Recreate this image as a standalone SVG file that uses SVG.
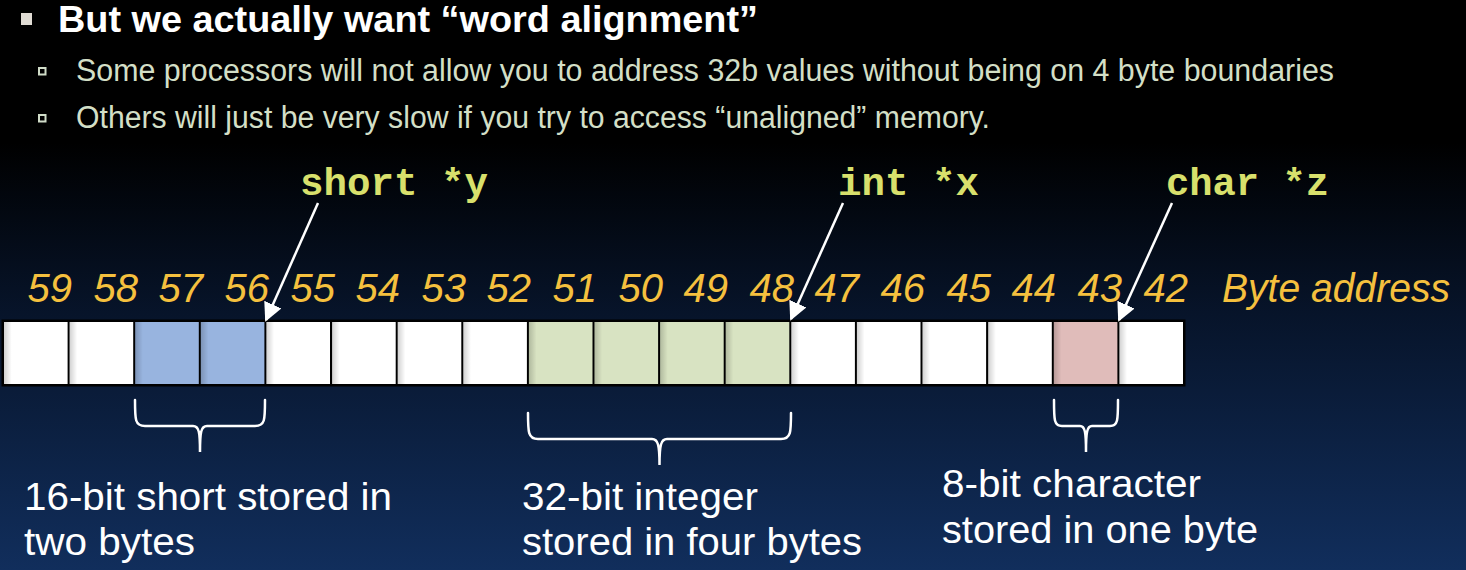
<svg xmlns="http://www.w3.org/2000/svg" width="1466" height="570" viewBox="0 0 1466 570">
<defs>
<linearGradient id="bg" x1="0" y1="0" x2="0" y2="1">
<stop offset="0" stop-color="#000000"/>
<stop offset="0.25" stop-color="#000000"/>
<stop offset="0.55" stop-color="#07142a"/>
<stop offset="1" stop-color="#112e5c"/>
</linearGradient>
<linearGradient id="shade" x1="0" y1="0" x2="1" y2="0">
<stop offset="0" stop-color="#000" stop-opacity="0.18"/>
<stop offset="0.12" stop-color="#000" stop-opacity="0"/>
</linearGradient>
<marker id="ah" viewBox="0 0 10 10" refX="9" refY="5" markerWidth="7.5" markerHeight="7.5" markerUnits="strokeWidth" orient="auto">
<path d="M0,0 L10,5 L0,10 z" fill="#ffffff"/>
</marker>
<style>
.title{font-family:"Liberation Sans",Arial,sans-serif;font-weight:bold;font-size:36px;fill:#ffffff}
.sub{font-family:"Liberation Sans",Arial,sans-serif;font-size:31px;fill:#d3dfc6}
.code{font-family:"Liberation Mono","Courier New",monospace;font-weight:bold;font-size:39px;fill:#d8e06c}
.num{font-family:"Liberation Sans",Arial,sans-serif;font-style:italic;font-size:40px;fill:#f5c03e;text-anchor:end}
.lbl{font-family:"Liberation Sans",Arial,sans-serif;font-size:38px;fill:#ffffff}
.cell{stroke:none}
.w{fill:#ffffff}.b{fill:#98b4df}.g{fill:#d8e3c2}.p{fill:#e0bcba}
.arrow{stroke:#ffffff;stroke-width:2.5;fill:none}
.brace{stroke:#ffffff;stroke-width:2.5;fill:none;stroke-linecap:round}
</style>
</defs>
<rect x="0" y="0" width="1466" height="570" fill="url(#bg)"/>

<g id="header">
<rect x="21" y="13" width="11" height="12" fill="#e0dcd4"/>
<text class="title" x="58" y="32" textLength="700" lengthAdjust="spacingAndGlyphs">But we actually want “word alignment”</text>
<rect x="39" y="68" width="6.5" height="6.5" fill="none" stroke="#d0dcc8" stroke-width="2"/>
<text class="sub" x="76" y="81" textLength="1258" lengthAdjust="spacingAndGlyphs">Some processors will not allow you to address 32b values without being on 4 byte boundaries</text>
<rect x="39" y="115" width="6.5" height="6.5" fill="none" stroke="#d0dcc8" stroke-width="2"/>
<text class="sub" x="76" y="128" textLength="914" lengthAdjust="spacingAndGlyphs">Others will just be very slow if you try to access “unaligned” memory.</text>
</g>

<g id="pointer-labels">
<text id="label-short" class="code" x="300" y="195" textLength="188" lengthAdjust="spacingAndGlyphs">short *y</text>
<text id="label-int" class="code" x="838" y="195" textLength="141" lengthAdjust="spacingAndGlyphs">int *x</text>
<text id="label-char" class="code" x="1166" y="195" textLength="163" lengthAdjust="spacingAndGlyphs">char *z</text>
</g>

<g id="addresses">
<text class="num" x="72" y="302">59</text>
<text class="num" x="138" y="302">58</text>
<text class="num" x="203" y="302">57</text>
<text class="num" x="269" y="302">56</text>
<text class="num" x="335" y="302">55</text>
<text class="num" x="400" y="302">54</text>
<text class="num" x="466" y="302">53</text>
<text class="num" x="531" y="302">52</text>
<text class="num" x="597" y="302">51</text>
<text class="num" x="663" y="302">50</text>
<text class="num" x="728" y="302">49</text>
<text class="num" x="794" y="302">48</text>
<text class="num" x="859" y="302">47</text>
<text class="num" x="925" y="302">46</text>
<text class="num" x="991" y="302">45</text>
<text class="num" x="1056" y="302">44</text>
<text class="num" x="1122" y="302">43</text>
<text class="num" x="1188" y="302">42</text>
<text class="num" x="1450" y="302" textLength="228" lengthAdjust="spacingAndGlyphs">Byte address</text>
</g>

<g id="memory">
<rect x="1.5" y="319.5" width="1184" height="67" fill="#000000"/>
<g id="cell-59"><rect class="cell w" x="4" y="322" width="63.6" height="62"/></g>
<g id="cell-58"><rect class="cell w" x="69.6" y="322" width="63.6" height="62"/></g>
<g id="cell-57"><rect class="cell b" x="135.2" y="322" width="63.6" height="62"/></g>
<g id="cell-56"><rect class="cell b" x="200.8" y="322" width="63.6" height="62"/></g>
<g id="cell-55"><rect class="cell w" x="266.4" y="322" width="63.6" height="62"/></g>
<g id="cell-54"><rect class="cell w" x="332.1" y="322" width="63.6" height="62"/></g>
<g id="cell-53"><rect class="cell w" x="397.7" y="322" width="63.6" height="62"/></g>
<g id="cell-52"><rect class="cell w" x="463.3" y="322" width="63.6" height="62"/></g>
<g id="cell-51"><rect class="cell g" x="528.9" y="322" width="63.6" height="62"/></g>
<g id="cell-50"><rect class="cell g" x="594.5" y="322" width="63.6" height="62"/></g>
<g id="cell-49"><rect class="cell g" x="660.1" y="322" width="63.6" height="62"/></g>
<g id="cell-48"><rect class="cell g" x="725.7" y="322" width="63.6" height="62"/></g>
<g id="cell-47"><rect class="cell w" x="791.3" y="322" width="63.6" height="62"/></g>
<g id="cell-46"><rect class="cell w" x="856.9" y="322" width="63.6" height="62"/></g>
<g id="cell-45"><rect class="cell w" x="922.5" y="322" width="63.6" height="62"/></g>
<g id="cell-44"><rect class="cell w" x="988.2" y="322" width="63.6" height="62"/></g>
<g id="cell-43"><rect class="cell p" x="1053.8" y="322" width="63.6" height="62"/></g>
<g id="cell-42"><rect class="cell w" x="1119.4" y="322" width="63.6" height="62"/></g>
<g id="shading" fill="url(#shade)">
<rect x="4" y="322" width="63.6" height="62"/><rect x="69.6" y="322" width="63.6" height="62"/><rect x="135.2" y="322" width="63.6" height="62"/><rect x="200.8" y="322" width="63.6" height="62"/><rect x="266.4" y="322" width="63.6" height="62"/><rect x="332.1" y="322" width="63.6" height="62"/><rect x="397.7" y="322" width="63.6" height="62"/><rect x="463.3" y="322" width="63.6" height="62"/><rect x="528.9" y="322" width="63.6" height="62"/><rect x="594.5" y="322" width="63.6" height="62"/><rect x="660.1" y="322" width="63.6" height="62"/><rect x="725.7" y="322" width="63.6" height="62"/><rect x="791.3" y="322" width="63.6" height="62"/><rect x="856.9" y="322" width="63.6" height="62"/><rect x="922.5" y="322" width="63.6" height="62"/><rect x="988.2" y="322" width="63.6" height="62"/><rect x="1053.8" y="322" width="63.6" height="62"/><rect x="1119.4" y="322" width="63.6" height="62"/>
</g>
</g>

<g id="connectors">
<line class="arrow" x1="318" y1="203" x2="266" y2="320" marker-end="url(#ah)"/>
<line class="arrow" x1="843" y1="203" x2="791" y2="319" marker-end="url(#ah)"/>
<line class="arrow" x1="1172" y1="203" x2="1119" y2="320" marker-end="url(#ah)"/>
<path class="brace" d="M135,400 C135,420 135,426 145,426 L193,426 C199,426 200,432 200,452 C200,432 201,426 207,426 L255,426 C265,426 265,420 265,400"/>
<path class="brace" d="M528,413 C528,432 528,439 538,439 L652,439 C658,439 659.5,445 659.5,465 C659.5,445 661,439 667,439 L781,439 C791,439 791,432 791,413"/>
<path class="brace" d="M1054,400 C1054,420 1054,426 1062,426 L1080,426 C1085,426 1086,432 1086,452 C1086,432 1087,426 1092,426 L1110,426 C1118,426 1118,420 1118,400"/>
</g>

<g id="captions">
<text class="lbl" x="24" y="510" textLength="368" lengthAdjust="spacingAndGlyphs">16-bit short stored in</text>
<text class="lbl" x="24" y="555" textLength="171" lengthAdjust="spacingAndGlyphs">two bytes</text>
<text class="lbl" x="522" y="510" textLength="236" lengthAdjust="spacingAndGlyphs">32-bit integer</text>
<text class="lbl" x="522" y="555" textLength="340" lengthAdjust="spacingAndGlyphs">stored in four bytes</text>
<text class="lbl" x="942" y="497" textLength="259" lengthAdjust="spacingAndGlyphs">8-bit character</text>
<text class="lbl" x="942" y="543" textLength="316" lengthAdjust="spacingAndGlyphs">stored in one byte</text>
</g>
</svg>
